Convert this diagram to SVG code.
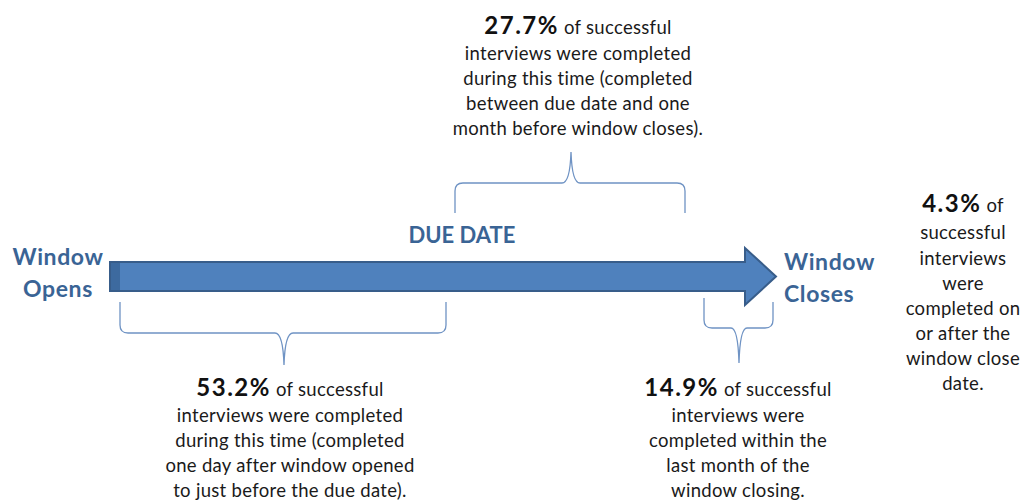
<svg xmlns="http://www.w3.org/2000/svg" width="1021" height="502" viewBox="0 0 1021 502">
<style>
.t{font-family:Lato,"Open Sans","Liberation Sans",sans-serif;font-size:18.5px;letter-spacing:0.3px;fill:#1a1a1a;text-anchor:middle}
.p{font-weight:bold;font-size:24px;letter-spacing:1.5px;fill:#111}
.lbl{font-family:Lato,"Open Sans","Liberation Sans",sans-serif;font-weight:bold;font-size:23px;letter-spacing:0.6px;fill:#3A6495;text-anchor:middle}
.st{text-anchor:start}
.brace{fill:none;stroke:#6F93C4;stroke-width:1.3}
</style>
<rect width="1021" height="502" fill="#fff"/>
<g id="arrow">
<polygon points="110,262 745,262 745,248 776,276.5 745,305 745,291 110,291" fill="#4F81BD" stroke="#385D8A" stroke-width="2" stroke-linejoin="miter"/>
<rect x="111" y="263" width="9" height="27" fill="#3D6A9F"/>
</g>
<g id="connectors">
<path class="brace" d="M455,213 L455,191 Q455,183 463,183 L562,183 Q570,183 571,152 Q572,183 580,183 L677,183 Q685,183 685,191 L685,213"/>
<path class="brace" d="M120,302 L120,325 Q120,333 128,333 L275,333 Q283,333 284,365 Q285,333 293,333 L438,333 Q446,333 446,325 L446,302"/>
<path class="brace" d="M704,298 L704,320 Q704,328 712,328 L731,328 Q738,328 739,363 Q740,328 747,328 L765,328 Q773,328 773,320 L773,302"/>
</g>
<g id="window-opens">
<text class="lbl" x="58" y="265">Window</text>
<text class="lbl" x="58" y="297">Opens</text>
</g>
<g id="due-date">
<text class="lbl" x="462" y="243" style="font-size:22px;letter-spacing:0">DUE DATE</text>
</g>
<g id="window-closes">
<text class="lbl st" x="784" y="270">Window</text>
<text class="lbl st" x="784" y="302">Closes</text>
</g>
<g id="note-top">
<text class="t" x="578" y="34"><tspan class="p">27.7%</tspan> of successful</text>
<text class="t" x="578" y="60">interviews were completed</text>
<text class="t" x="578" y="85">during this time (completed</text>
<text class="t" x="578" y="110">between due date  and one</text>
<text class="t" x="578" y="135">month before window closes).</text>
</g>
<g id="note-left">
<text class="t" x="290" y="396"><tspan class="p">53.2%</tspan> of successful</text>
<text class="t" x="290" y="422">interviews were completed</text>
<text class="t" x="290" y="447">during this time (completed</text>
<text class="t" x="290" y="472">one day after window opened</text>
<text class="t" x="290" y="497">to just before the due date).</text>
</g>
<g id="note-right">
<text class="t" x="738" y="396"><tspan class="p">14.9%</tspan> of successful</text>
<text class="t" x="738" y="422">interviews were</text>
<text class="t" x="738" y="447">completed within the</text>
<text class="t" x="738" y="472">last month of the</text>
<text class="t" x="738" y="497">window closing.</text>
</g>
<g id="note-far">
<text class="t" x="963" y="212"><tspan class="p">4.3%</tspan> of</text>
<text class="t" x="963" y="239">successful</text>
<text class="t" x="963" y="265">interviews</text>
<text class="t" x="963" y="290">were</text>
<text class="t" x="963" y="315">completed on</text>
<text class="t" x="963" y="340">or after the</text>
<text class="t" x="963" y="365">window close</text>
<text class="t" x="963" y="390">date.</text>
</g>
</svg>
